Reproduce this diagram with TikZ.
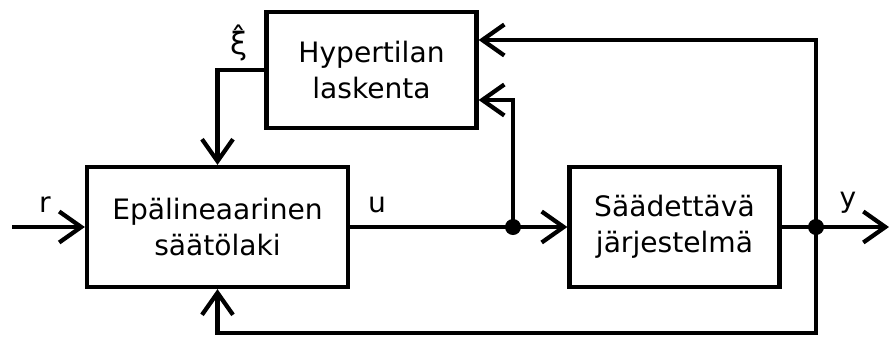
\documentclass[tikz,border=0pt]{standalone}
\usepackage{fontspec}
\setmainfont{DejaVu Sans}
\usetikzlibrary{arrows.meta,calc}
\tikzstyle{box}=[rectangle, draw=black, line width=0.085cm, align=center, inner sep=0pt, font=\fontsize{16}{20.5}\selectfont, anchor=center]
\tikzstyle{annot}=[align=center, font=\fontsize{16}{20}\selectfont]
\tikzstyle{wire}=[line width=0.085cm]
\tikzstyle{sig}=[wire, -{Straight Barb[length=0.44cm,width=0.62cm]}]

\begin{document}
\begin{tikzpicture}
	\useasboundingbox (0,0) rectangle (17.8,6.74);

	\node[box, minimum width=5.22cm, minimum height=2.4cm](ctrl) at (4.35,2.2){Epälineaarinen\\säätölaki};
	\node[box, minimum width=4.2cm, minimum height=2.32cm](hyper) at (7.43,5.34){Hypertilan\\laskenta};
	\node[box, minimum width=4.2cm, minimum height=2.4cm](plant) at (13.49,2.2){Säädettävä\\järjestelmä};

	\coordinate (in) at (0.24,2.2);
	\coordinate (split) at (10.26,2.2);
	\coordinate (meas) at (16.32,2.2);
	\coordinate (out) at (17.78,2.2);
	\coordinate (fb) at (16.32,0.08);

	\draw[sig] (in) -- (ctrl);
	\draw[wire] (ctrl) -- (split);
	\draw[sig] (split) -- (plant);
	\draw[wire] (plant) -- (meas);
	\draw[sig] (meas) -- (out);
	\draw[sig] (split) |- ($(hyper.east)+(0,-0.6)$);
	\draw[sig] (meas) |- ($(hyper.east)+(0,0.6)$);
	\draw[sig] (meas) -- (fb) -| (ctrl.south);
	\draw[sig] (hyper.west) -| (ctrl.north);

	\fill (split) circle (0.16);
	\fill (meas) circle (0.16);

	\node[annot](rlab) at (0.9,2.64){r};
	\node[annot](ulab) at (7.54,2.64){u};
	\node[annot](ylab) at (16.96,2.68){y};
	\node[annot, font=\fontsize{17.5}{20}\selectfont](xilab) at (4.78,5.88){ξ̂};
\end{tikzpicture}
\end{document}
